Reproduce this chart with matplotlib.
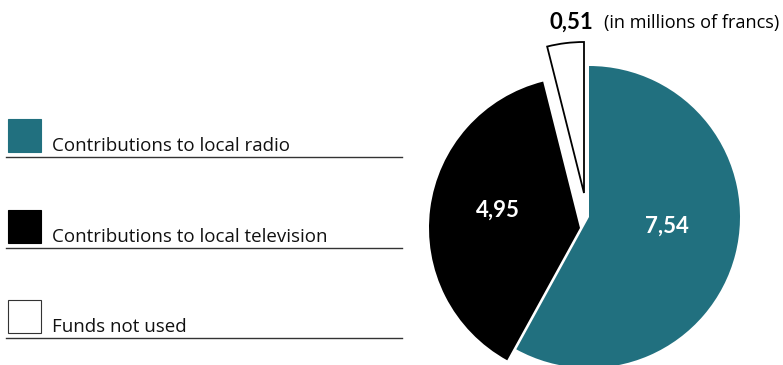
import matplotlib
matplotlib.use("Agg")
import matplotlib.pyplot as plt
from matplotlib.patches import Rectangle

plt.rcParams['font.family'] = ['Open Sans', 'DejaVu Sans']

# funding split, millions of francs
categories = ["Contributions to local radio",
              "Contributions to local television",
              "Funds not used"]
values = [7.54, 4.95, 0.51]
value_labels = ["7,54", "4,95", "0,51"]
colors = ["#21707f", "#000000", "#ffffff"]

W, H = 783, 365
fig = plt.figure(figsize=(W / 100, H / 100), dpi=100)
ax = fig.add_axes([0, 0, 1, 1])

cx, cy, r = 589, 148, 151
wedges, _ = ax.pie(values, colors=colors, startangle=90, counterclock=False,
                   center=(cx, cy), radius=r, frame=True,
                   wedgeprops=dict(linewidth=0))
ax.set_xlim(0, W)
ax.set_ylim(0, H)
ax.axis('off')

# pull the small slices away from the big one
wedges[1].set_center((cx - 9, cy - 11))
wedges[2].set_center((cx - 5, cy + 24))
wedges[2].set_edgecolor('black')
wedges[2].set_linewidth(1.3)

bold = dict(family=['Lato', 'DejaVu Sans'], fontweight='bold', fontsize=16)
ax.text(667, 139, value_labels[0], color='white', ha='center', va='center', **bold)
ax.text(498, 155, value_labels[1], color='white', ha='center', va='center', **bold)
ax.text(549, 343, value_labels[2], color='black', ha='left', va='center', **bold)
ax.text(604, 342, "(in millions of francs)", color='black', fontsize=13.1,
        ha='left', va='center')

# legend rows: swatch, label and rule underneath
row_y = [152, 243, 333]
for name, col, y in zip(categories, colors, row_y):
    yy = H - y
    ax.add_patch(Rectangle((8, yy), 33, 33, facecolor=col,
                           edgecolor='#333333' if col == '#ffffff' else col,
                           linewidth=0.8))
    ax.text(52, yy + 1, name, fontsize=13.5, ha='left', va='baseline',
            color='#111111')
    ax.plot([6, 402], [yy - 5, yy - 5], color='#333333', lw=1)

fig.savefig("out.png", dpi=100)
